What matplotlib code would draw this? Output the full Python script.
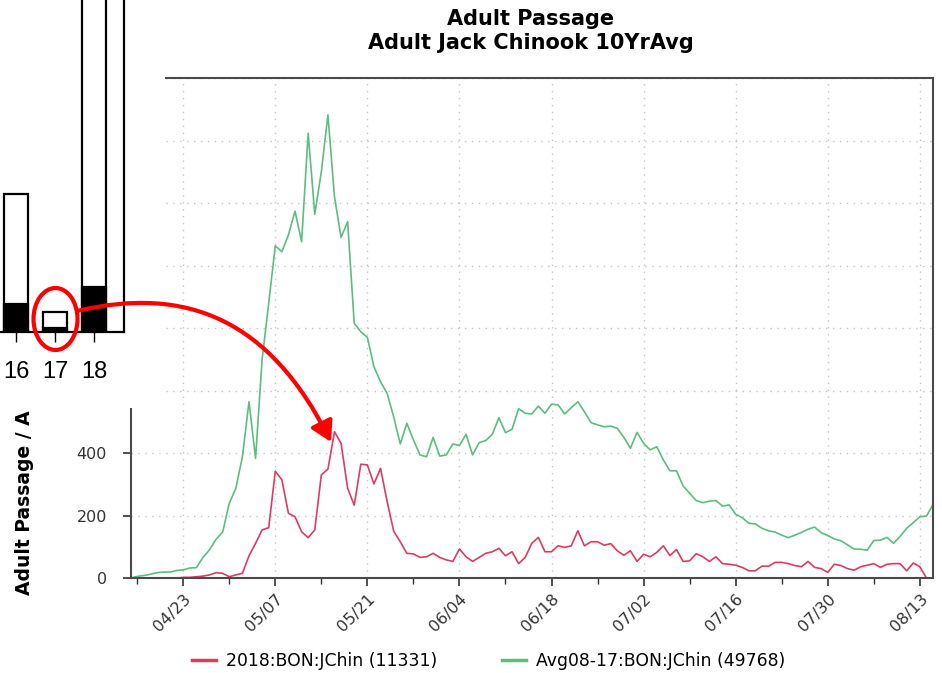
import numpy as np
import pandas as pd
import matplotlib
matplotlib.use("Agg")
import matplotlib.pyplot as plt
import matplotlib.dates as mdates
from matplotlib.patches import Rectangle, Ellipse, FancyArrowPatch
from matplotlib.path import Path

# daily passage, 04/15 .. 08/15
start_date = "2018-04-15"
avg_counts = [0, 5, 8, 12, 17, 19, 19, 24, 26, 32,
              33, 66, 90, 124, 147, 239, 287, 388, 564, 383,
              700, 880, 1063, 1044, 1098, 1174, 1076, 1423, 1164, 1300,
              1482, 1220, 1090, 1140, 815, 788, 770, 676, 628, 591,
              516, 429, 495, 442, 394, 388, 450, 390, 394, 429,
              424, 460, 394, 433, 440, 460, 513, 465, 476, 542,
              527, 525, 550, 527, 556, 554, 525, 545, 564, 532,
              497, 490, 484, 486, 479, 450, 415, 466, 431, 410,
              420, 378, 343, 343, 295, 271, 248, 241, 246, 248,
              230, 234, 204, 193, 175, 173, 159, 151, 147, 137,
              129, 137, 146, 156, 163, 145, 136, 125, 119, 106,
              93, 92, 89, 120, 121, 130, 111, 133, 159, 177,
              196, 198, 235]
# 2018 starts on 04/22
y2018_start = "2018-04-22"
y2018_counts = [0, 2, 2, 4, 6, 10, 17, 15, 4, 10,
                15, 71, 111, 154, 161, 342, 314, 207, 196, 148,
                129, 154, 330, 348, 468, 431, 287, 233, 364, 362,
                301, 351, 245, 150, 116, 79, 77, 66, 68, 79,
                66, 58, 53, 93, 68, 53, 66, 79, 84, 95,
                71, 84, 46, 66, 111, 130, 84, 84, 103, 98,
                103, 151, 103, 116, 116, 105, 110, 87, 73, 87,
                53, 76, 68, 82, 103, 72, 91, 53, 55, 78,
                68, 53, 68, 46, 44, 41, 34, 23, 23, 38,
                38, 50, 50, 46, 40, 36, 53, 34, 30, 18,
                44, 40, 30, 25, 36, 41, 46, 34, 44, 46,
                46, 23, 48, 36, 0]
series_labels = ["2018:BON:JChin (11331)", "Avg08-17:BON:JChin (49768)"]

# pasted bar chart (relative heights)
bar_years = ["16", "17", "18"]
bar_total = [138, 20, 400]
bar_dark = [28, 4, 45]

red = "#dc3c5f"
green = "#5cbd80"
W, H = 942, 673

fig = plt.figure(figsize=(9.42, 6.73), dpi=100)
ax = fig.add_axes([130.6 / W, (H - 578) / H, 802.4 / W, 500 / H])

avg_dates = pd.date_range(start_date, periods=len(avg_counts), freq="D")
d2018 = pd.date_range(y2018_start, periods=len(y2018_counts), freq="D")
ax.plot(d2018, y2018_counts, color=red, lw=1.2, label=series_labels[0])
ax.plot(avg_dates, avg_counts, color=green, lw=1.2, label=series_labels[1])

ax.set_xlim(pd.Timestamp("2018-04-15"), pd.Timestamp("2018-08-15"))
ax.set_ylim(0, 1600)
ax.set_yticks(np.arange(0, 1601, 200))
ax.set_xticks(pd.date_range("2018-04-23", "2018-08-13", freq="14D"))
ax.set_xticks(pd.date_range("2018-04-16", "2018-08-15", freq="7D"), minor=True)
ax.xaxis.set_major_formatter(mdates.DateFormatter("%m/%d"))
for lab in ax.get_xticklabels():
    lab.set_rotation(45)
    lab.set_ha("right")
    lab.set_rotation_mode("anchor")
ax.tick_params(axis="both", which="major", labelsize=11.5, colors="#333333",
               length=6, width=1.2, direction="out")
ax.tick_params(axis="y", pad=11)
ax.tick_params(axis="x", which="minor", length=4, width=1, colors="#333333")
ax.grid(True, which="major", color="#c4c4c4", linestyle=(0, (1, 4)), lw=1)
for s in ax.spines.values():
    s.set_color("#4a4a4a")
    s.set_linewidth(1.5)

fig.legend(loc="center left", bbox_to_anchor=(176 / W, (H - 661) / H), ncol=2,
           frameon=False, fontsize=12.4, handlelength=1.4, handletextpad=0.58,
           columnspacing=3.8)
for l in fig.legends[0].get_lines():
    l.set_linewidth(2.5)

fig.text(531 / W, (H - 19) / H, "Adult Passage", ha="center", va="center",
         fontsize=15, fontweight="bold")
fig.text(531 / W, (H - 43) / H, "Adult Jack Chinook 10YrAvg", ha="center",
         va="center", fontsize=15, fontweight="bold")
fig.text(25 / W, (H - 595) / H, "Adult Passage / A", rotation=90, ha="center",
         va="bottom", fontsize=13.5, fontweight="bold")

# white patch of the pasted bar chart
fig.add_artist(Rectangle((0, (H - 408) / H), 165 / W, 408 / H,
                         transform=fig.transFigure, facecolor="white",
                         edgecolor="none", zorder=1.5))

bx = fig.add_axes([0, (H - 332) / H, 124 / W, 332 / H])
bx.set_zorder(2)
bx.patch.set_alpha(0)
xpos = np.arange(len(bar_years))
bx.bar(xpos, bar_total, width=0.615, color="white", edgecolor="black", lw=1.6)
bx.bar(xpos, bar_dark, width=0.615, color="black", edgecolor="black", lw=1.6)
bx.set_xlim(-0.41, 2.756)
bx.set_ylim(0, 332)
bx.set_xticks(xpos)
bx.set_xticklabels(bar_years, family="Liberation Sans", fontsize=17)
bx.set_yticks([])
bx.tick_params(axis="x", length=7, width=1, pad=14)
bx.spines["left"].set_visible(False)
bx.spines["top"].set_visible(False)
for s in ["bottom", "right"]:
    bx.spines[s].set_linewidth(1.6)

# red highlight and arrow
ov = fig.add_axes([0, 0, 1, 1])
ov.set_zorder(3)
ov.patch.set_alpha(0)
ov.set_xlim(0, W)
ov.set_ylim(H, 0)
ov.axis("off")
ov.add_patch(Ellipse((55.5, 319), 44, 62, fill=False, edgecolor="red", lw=3))
arrow_path = Path([(77, 311), (187, 285), (270, 320), (331, 442)],
                  [Path.MOVETO, Path.CURVE4, Path.CURVE4, Path.CURVE4])
ov.add_patch(FancyArrowPatch(path=arrow_path, arrowstyle="-|>,head_length=0.6,head_width=0.35",
                             mutation_scale=20, color="red", lw=3))

fig.savefig("out.png", dpi=100)
